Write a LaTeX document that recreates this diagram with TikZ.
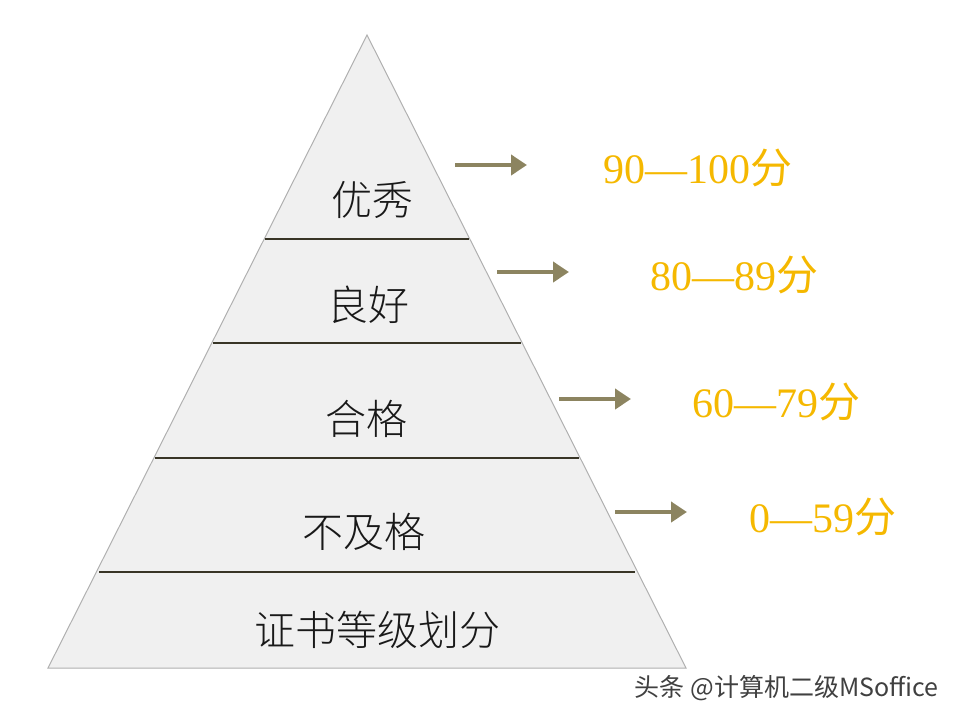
\documentclass[tikz,border=0pt]{standalone}
\usepackage{fontspec}
\usetikzlibrary{arrows.meta}
\setmainfont{Liberation Serif}
\newfontfamily\cjk{Noto Sans CJK SC}
\newfontfamily\cjkl{Noto Sans CJK SC Light}
\definecolor{olive}{HTML}{8C8460}
\definecolor{gold}{HTML}{F5B800}
\definecolor{edge}{HTML}{B0B0B0}
\begin{document}
\begin{tikzpicture}[x=1pt,y=-1pt,
  lvl/.style={font=\fontsize{41}{41}\selectfont\cjkl,text=black!90},
  score/.style={font=\fontsize{42}{42}\selectfont,text=gold,anchor=west},
  arr/.style={draw=olive,line width=4pt,-{Triangle[length=16pt,width=20pt]}},
  divider/.style={draw=black!60!olive,line width=2.5pt}]
\useasboundingbox (0,0) rectangle (960,720);
\coordinate (top) at (367,35);
\coordinate (bl) at (48,668);
\coordinate (br) at (686,668);
\fill[black!6] (top) -- (bl) -- (br) -- cycle;
\draw[edge,line width=1pt] (top) -- (bl) -- (br) -- cycle;
\foreach \y/\xl/\xr in {239/265/469,343/213/521,458/155/579,572/99/635}
  \draw[divider] (\xl,\y) -- (\xr,\y);
\node[lvl] (a) at (372,200) {优秀};
\node[lvl] (b) at (368,305) {良好};
\node[lvl] (c) at (366,419) {合格};
\node[lvl] (d) at (364,532) {不及格};
\node[lvl] (e) at (377,630) {证书等级划分};
\coordinate (a1) at (455,165); \coordinate (a2) at (527,165);
\coordinate (b1) at (497,272); \coordinate (b2) at (569,272);
\coordinate (c1) at (559,399); \coordinate (c2) at (631,399);
\coordinate (d1) at (615,512); \coordinate (d2) at (687,512);
\draw[arr] (a1) -- (a2);
\draw[arr] (b1) -- (b2);
\draw[arr] (c1) -- (c2);
\draw[arr] (d1) -- (d2);
\node[score] (sa) at (600,168) {90—100{\cjk 分}};
\node[score] (sb) at (647,275) {80—89{\cjk 分}};
\node[score] (sc) at (689,402) {60—79{\cjk 分}};
\node[score] (sd) at (746,517) {0—59{\cjk 分}};
\node[font=\fontsize{25}{25}\selectfont\cjk,text=black!75,anchor=east] (w) at (942,688) {头条 @计算机二级MSoffice};
\end{tikzpicture}
\end{document}
